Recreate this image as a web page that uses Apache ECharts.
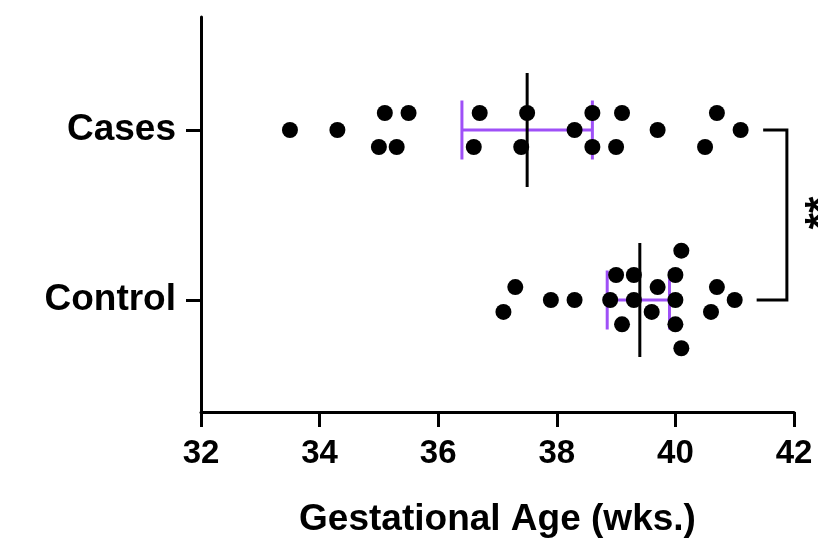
<!DOCTYPE html>
<html>
<head>
<meta charset="utf-8">
<script src="https://cdn.jsdelivr.net/npm/echarts@6/dist/echarts.min.js"></script>
<style>
  html, body { margin: 0; padding: 0; background: #fff; }
  #chart { width: 818px; height: 547px; }
</style>
</head>
<body>
<div id="chart"></div>
<script>
// group positions on the value y axis
const categories = ['Control', 'Cases']
const categoryPos = [1, 2]

// gestational age (wks.) of each subject
const casesAge = [33.5, 34.3, 35.1, 35.5, 35.0, 35.3, 36.7, 36.6, 37.5, 37.4, 38.3, 38.6, 38.6, 39.1, 39.0, 39.7, 40.7, 40.5, 41.1]
const casesJitter = [0, 0, 0.1, 0.1, -0.1, -0.1, 0.1, -0.1, 0.1, -0.1, 0, 0.1, -0.1, 0.1, -0.1, 0, 0.1, -0.1, 0]
const controlAge = [37.3, 37.1, 37.9, 38.3, 38.9, 39.0, 39.3, 39.3, 39.1, 39.7, 39.6, 40.1, 40.0, 40.0, 40.0, 40.1, 40.7, 40.6, 41.0]
const controlJitter = [0.076, -0.07, 0, 0, 0, 0.147, 0.147, 0, -0.143, 0.076, -0.07, 0.29, 0.147, 0, -0.143, -0.284, 0.076, -0.07, 0]

// median and interquartile range, [Control, Cases]
const medians = [39.4, 37.5]
const q1 = [38.85, 36.4]
const q3 = [39.9, 38.6]

// significance bracket
const bracketX = [41.48, 41.88, 41.88, 41.37]
const bracketY = [2, 2, 1, 1]
const sigText = '**'

// x axis
const xMin = 32
const xMax = 42
const xStep = 2

const font = 'Liberation Sans, Arial, Helvetica, sans-serif'
const purple = '#9f50f7'

const myChart = echarts.init(document.getElementById('chart'))

const points = function (ages, jitter, pos) {
  return ages.map((a, i) => [a, pos + jitter[i]])
}

const option = {
  animation: false,
  grid: {
    left: 201,
    right: 24,
    top: 17,
    bottom: 135,
  },
  xAxis: {
    type: 'value',
    min: xMin,
    max: xMax,
    interval: xStep,
    name: 'Gestational Age (wks.)',
    nameLocation: 'middle',
    nameGap: 89,
    nameTextStyle: {
      color: '#000',
      fontSize: 37,
      fontWeight: 'bold',
      fontFamily: font,
    },
    axisLine: { lineStyle: { color: '#000', width: 3 } },
    axisTick: { length: 15, lineStyle: { color: '#000', width: 3 } },
    axisLabel: {
      color: '#000',
      fontSize: 33,
      fontWeight: 'bold',
      fontFamily: font,
      margin: 25,
    },
    splitLine: { show: false },
  },
  yAxis: {
    type: 'value',
    min: 1 - 112 / 170,
    max: 2 + 113 / 170,
    axisLine: { show: true, lineStyle: { color: '#000', width: 3 } },
    axisTick: {
      show: true,
      length: 15,
      customValues: categoryPos,
      lineStyle: { color: '#000', width: 3 },
    },
    axisLabel: {
      color: '#000',
      fontSize: 37,
      fontWeight: 'bold',
      fontFamily: font,
      margin: 25,
      customValues: categoryPos,
      formatter: function (v) {
        const i = categoryPos.indexOf(Math.round(v))
        return i >= 0 ? categories[i] : ''
      },
    },
    splitLine: { show: false },
  },
  series: [
    {
      // median line and interquartile range with caps
      type: 'custom',
      z: 1,
      encode: { x: [1, 2, 3], y: 0 },
      data: categoryPos.map((p, i) => [p, medians[i], q1[i], q3[i]]),
      renderItem: function (params, api) {
        const mid = api.coord([api.value(1), api.value(0)])
        const lo = api.coord([api.value(2), api.value(0)])
        const hi = api.coord([api.value(3), api.value(0)])
        const medHalf = 57
        const capHalf = 29.5
        const purpleStyle = { stroke: purple, lineWidth: 3 }
        return {
          type: 'group',
          children: [
            { type: 'line', shape: { x1: lo[0], y1: lo[1], x2: hi[0], y2: hi[1] }, style: purpleStyle },
            { type: 'line', shape: { x1: lo[0], y1: lo[1] - capHalf, x2: lo[0], y2: lo[1] + capHalf }, style: purpleStyle },
            { type: 'line', shape: { x1: hi[0], y1: hi[1] - capHalf, x2: hi[0], y2: hi[1] + capHalf }, style: purpleStyle },
            {
              type: 'line',
              shape: { x1: mid[0], y1: mid[1] - medHalf, x2: mid[0], y2: mid[1] + medHalf },
              style: { stroke: '#000', lineWidth: 3 },
            },
          ],
        }
      },
    },
    {
      name: 'Cases',
      type: 'scatter',
      z: 3,
      symbolSize: 16,
      itemStyle: { color: '#000', opacity: 1 },
      data: points(casesAge, casesJitter, categoryPos[1]),
    },
    {
      name: 'Control',
      type: 'scatter',
      z: 3,
      symbolSize: 16,
      itemStyle: { color: '#000', opacity: 1 },
      data: points(controlAge, controlJitter, categoryPos[0]),
    },
    {
      name: 'bracket',
      type: 'line',
      z: 2,
      symbol: 'none',
      lineStyle: { color: '#000', width: 3, join: 'miter' },
      data: bracketX.map((x, i) => [x, bracketY[i]]),
    },
  ],
  graphic: [
    {
      type: 'text',
      x: 822,
      y: 213,
      rotation: Math.PI / 2,
      style: {
        text: sigText,
        fill: '#000',
        font: 'bold 42px ' + font,
        textAlign: 'center',
        textVerticalAlign: 'middle',
      },
    },
  ],
}

myChart.setOption(option)
</script>
</body>
</html>
